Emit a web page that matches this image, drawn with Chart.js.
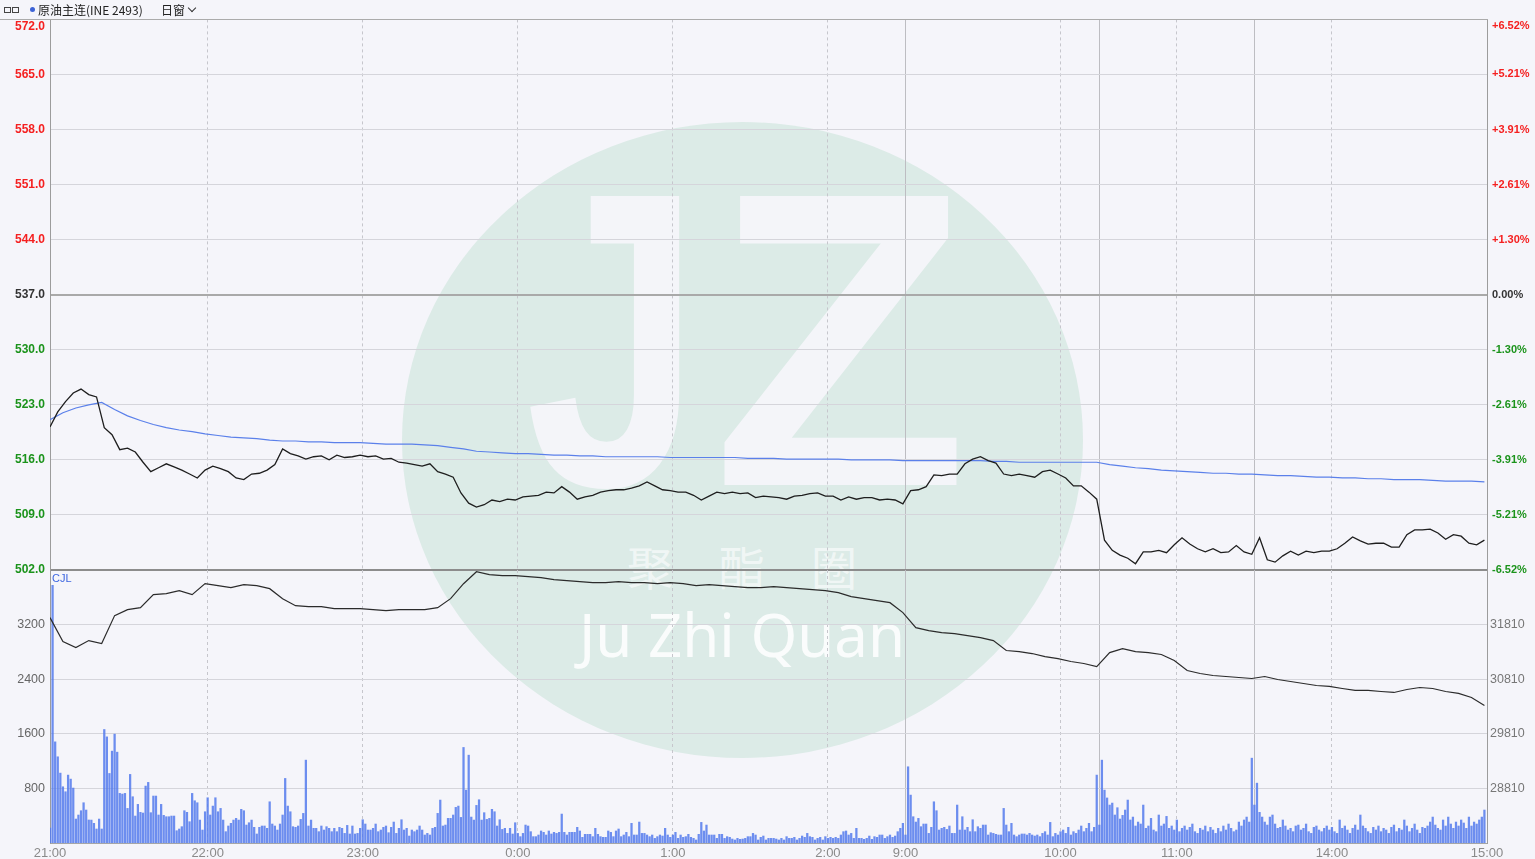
<!DOCTYPE html>
<html lang="zh">
<head>
<meta charset="utf-8">
<title>原油主连 分时</title>
<script src="https://cdn.jsdelivr.net/npm/chart.js@4.4.1/dist/chart.umd.min.js"></script>
<style>
  html, body { margin: 0; padding: 0; }
  body { width: 1535px; height: 859px; background: #f5f5fa; position: relative; overflow: hidden;
         font-family: "Noto Sans CJK SC", "Liberation Sans", sans-serif; }
  canvas { position: absolute; left: 0; top: 0; }
  #priceChart { z-index: 2; }
  #volChart { z-index: 3; }
  #hdr { position: absolute; left: 0; top: 0; width: 1488px; height: 19px; border-bottom: 1px solid #ababab;
         font-size: 12px; line-height: 19px; color: #222; z-index: 4; }
  #hdr .ico { position: absolute; top: 7px; width: 5px; height: 4px; border: 1px solid #444; }
  #hdr .dot { position: absolute; left: 30px; top: 7px; width: 5px; height: 5px; border-radius: 50%; background: #3d63d6; }
  #hdr .name { position: absolute; left: 38px; top: 0; }
  #hdr .win { position: absolute; left: 161px; top: 0; }
  #hdr .chev { position: absolute; left: 189px; top: 5px; width: 5px; height: 5px; border-right: 1.5px solid #333; border-bottom: 1.5px solid #333; transform: rotate(45deg); }
  #cjl { position: absolute; left: 52px; top: 572px; font: 11px "Liberation Sans", sans-serif; color: #3d66e0; z-index: 4; }
  #wm { position: absolute; left: 0; top: 0; width: 1535px; height: 859px; z-index: 1; overflow: hidden; }
  #wm .disc { position: absolute; left: 402px; top: 122px; width: 681px; height: 636px; border-radius: 50%; background: #dcebe7; }
  #wm .lt { position: absolute; top: 130px; font-family: "Liberation Sans", sans-serif; font-weight: bold;
            font-size: 420px; line-height: 420px; color: #f4f5f9; }
  #wm .j { left: 474px; transform-origin: 206px 0; transform: scaleX(0.75); }
  #wm .z { left: 712px; }
  #wm .cn { position: absolute; left: 0; width: 1484px; text-align: center; top: 538px; font-size: 46px; line-height: 54px;
            color: rgba(255,255,255,0.6); }
  #wm .en { position: absolute; left: 0; width: 1484px; text-align: center; top: 598px; font-size: 60px; line-height: 72px;
            font-family: "Noto Sans", sans-serif; color: rgba(255,255,255,0.85); }
</style>
</head>
<body>
<div id="wm">
  <div class="disc"></div>
  <div class="lt j">J</div>
  <div class="lt z">Z</div>
  <div class="cn">聚&emsp;酯&emsp;圈</div>
  <div class="en">Ju Zhi Quan</div>
</div>
<div id="hdr">
  <span class="ico" style="left:4px"></span><span class="ico" style="left:12px"></span>
  <span class="dot"></span>
  <span class="name">原油主连(INE 2493)</span>
  <span class="win">日窗</span><span class="chev"></span>
</div>
<div id="cjl">CJL</div>
<canvas id="priceChart" width="1535" height="859"></canvas>
<canvas id="volChart" width="1535" height="859"></canvas>
<script>
// time axis: minutes since 21:00 on the trading timeline (night 21:00-2:30, day 9:00-15:00)
// minute -1 is the 20:59 opening auction, the session label sits on it
const tickMinutes = [-1, 60, 120, 180, 240, 300, 330, 390, 435, 495, 555];
const tickLabels = ['21:00', '22:00', '23:00', '0:00', '1:00', '2:00', '9:00', '10:00', '11:00', '14:00', '15:00'];
const sessionBreaks = [330, 405, 465];
const firstMinute = -1;
const lastMinute = 555;

const prevClose = 537;

// last price, one value every 3 minutes
const priceStep = 3;
const price = [
  520.2, 522.1, 523.4, 524.5, 525.0, 524.3, 524.0, 520.1, 519.2, 517.3,
  517.5, 517.0, 515.7, 514.5, 515.0, 515.5, 515.1, 514.7, 514.2, 513.7,
  514.7, 515.2, 514.9, 514.5, 513.7, 513.5, 514.2, 514.3, 514.7, 515.4,
  517.4, 516.8, 516.5, 516.1, 516.4, 516.5, 516.0, 516.6, 516.3, 516.4,
  516.6, 516.4, 516.5, 516.1, 516.2, 515.7, 515.6, 515.4, 515.2, 515.5,
  514.5, 514.2, 513.8, 511.8, 510.5, 510.0, 510.3, 510.9, 510.7, 511.0,
  510.9, 511.3, 511.4, 511.5, 511.9, 511.8, 512.6, 511.9, 511.0, 511.3,
  511.5, 511.9, 512.1, 512.2, 512.2, 512.4, 512.7, 513.2, 512.7, 512.2,
  512.1, 511.9, 511.9, 511.5, 510.9, 511.4, 511.9, 511.7, 511.9, 511.7,
  511.8, 511.2, 511.4, 511.3, 511.2, 511.0, 511.4, 511.5, 511.7, 511.8,
  511.4, 511.4, 510.9, 511.3, 511.0, 511.2, 511.2, 510.9, 511.0, 510.9,
  510.4, 512.1, 512.2, 512.6, 514.1, 514.0, 514.2, 514.2, 515.5, 516.1,
  516.4, 515.9, 515.6, 514.2, 514.0, 514.2, 514.0, 513.8, 514.5, 514.7,
  514.2, 513.7, 512.7, 512.7, 511.9, 511.0, 505.8, 504.5, 503.9, 503.5,
  502.8, 504.3, 504.3, 504.5, 504.2, 505.2, 506.1, 505.3, 504.7, 504.3,
  504.7, 504.2, 504.3, 505.1, 504.3, 504.0, 506.1, 503.3, 503.0, 503.8,
  504.4, 503.9, 504.4, 504.2, 504.4, 504.4, 504.7, 505.4, 506.2, 505.7,
  505.3, 505.4, 505.4, 504.9, 504.9, 506.5, 507.1, 507.1, 507.2, 506.7,
  505.9, 506.5, 506.3, 505.4, 505.2, 505.8
];

// average price, every 5 minutes
const avgStep = 5;
const avgPrice = [
  521.1, 522.0, 522.6, 523.0, 523.3, 522.4, 521.6, 521.0, 520.5, 520.1,
  519.8, 519.6, 519.3, 519.1, 518.9, 518.8, 518.7, 518.5, 518.4, 518.4,
  518.3, 518.3, 518.2, 518.2, 518.2, 518.1, 518.0, 518.0, 518.0, 517.9,
  517.8, 517.6, 517.4, 517.1, 517.0, 516.9, 516.8, 516.8, 516.7, 516.6,
  516.6, 516.5, 516.5, 516.4, 516.4, 516.4, 516.4, 516.4, 516.3, 516.3,
  516.3, 516.3, 516.3, 516.3, 516.2, 516.2, 516.2, 516.1, 516.1, 516.1,
  516.1, 516.1, 516.0, 516.0, 516.0, 516.0, 515.9, 515.9, 515.9, 515.9,
  515.9, 515.9, 515.9, 515.8, 515.8, 515.7, 515.7, 515.7, 515.7, 515.7,
  515.7, 515.7, 515.4, 515.2, 515.0, 514.9, 514.7, 514.6, 514.5, 514.4,
  514.3, 514.3, 514.2, 514.2, 514.1, 514.0, 514.0, 513.9, 513.8, 513.8,
  513.7, 513.7, 513.6, 513.6, 513.5, 513.5, 513.5, 513.4, 513.3, 513.3,
  513.3, 513.2
];

// open interest, every 5 minutes
const oiStep = 5;
const openInterest = [
  31938, 31499, 31390, 31518, 31463, 31975, 32084, 32121, 32358, 32377,
  32432, 32358, 32560, 32523, 32486, 32541, 32523, 32468, 32285, 32157,
  32139, 32139, 32102, 32102, 32102, 32084, 32066, 32084, 32084, 32084,
  32121, 32285, 32559, 32779, 32724, 32706, 32706, 32687, 32669, 32633,
  32614, 32596, 32578, 32578, 32596, 32578, 32578, 32560, 32578, 32560,
  32523, 32541, 32523, 32505, 32486, 32486, 32505, 32486, 32468, 32450,
  32432, 32395, 32322, 32285, 32249, 32212, 32029, 31755, 31700, 31664,
  31645, 31609, 31572, 31518, 31335, 31316, 31280, 31225, 31188, 31134,
  31097, 31042, 31298, 31371, 31316, 31298, 31262, 31152, 30969, 30914,
  30878, 30859, 30841, 30823, 30859, 30805, 30768, 30731, 30695, 30677,
  30640, 30604, 30604, 30585, 30567, 30622, 30658, 30640, 30585, 30549,
  30476, 30329
];

// volume (CJL), one bar per minute
const volume = [
  220, 3775, 1482, 1263, 1024, 824, 751, 995, 936, 805, 351, 410, 473, 590, 483, 337, 336, 288, 205, 351,
  205, 1663, 1555, 1019, 1346, 1595, 1331, 727, 717, 727, 507, 1005, 678, 395, 566, 449, 439, 834, 888, 444,
  688, 688, 410, 566, 405, 385, 385, 395, 395, 180, 205, 239, 473, 449, 312, 727, 619, 590,
  336, 190, 458, 663, 410, 541, 663, 458, 507, 336, 166, 249, 288, 336, 361, 336, 493, 473, 263, 297,
  336, 230, 132, 230, 249, 249, 215, 604, 278, 249, 190, 278, 410, 946, 541, 458, 239, 230, 249, 346,
  434, 1214, 249, 336, 215, 215, 166, 249, 190, 239, 215, 166, 215, 166, 230, 215, 141, 258, 132, 249,
  132, 141, 215, 341, 278, 190, 190, 215, 278, 166, 190, 230, 249, 151, 230, 307, 141, 215, 341, 190,
  215, 102, 190, 166, 190, 249, 190, 117, 141, 117, 215, 230, 434, 629, 249, 263, 361, 361, 410, 522,
  541, 375, 1400, 775, 1287, 380, 336, 551, 634, 336, 444, 346, 361, 493, 458, 249, 341, 199, 215, 141,
  215, 132, 297, 141, 93, 141, 263, 249, 166, 93, 93,
  117,
  176, 156, 117, 176, 132, 156, 141, 156, 424, 156, 117, 156, 156, 156, 230, 176, 83, 127, 127, 127,
  93, 215, 127, 93, 83, 83, 176, 156, 93, 176, 205, 93, 117, 156, 93, 288, 117, 117, 307, 141,
  141, 117, 93, 117, 68, 93, 117, 102, 215, 117, 83, 117, 156, 68, 117, 83, 93, 127, 83, 68,
  44, 127, 302, 176, 263, 117, 117, 117, 68, 127, 127, 68, 93, 83, 58, 44, 68, 54, 58, 68,
  93, 93, 141, 117, 44, 83, 102, 44, 68, 68, 68, 58, 44, 68, 44, 93, 68, 68, 83, 44,
  68, 102, 83, 141, 93, 83, 44, 68, 83, 44, 93, 68, 83, 68, 83, 68, 117, 166, 176, 117,
  141, 68, 215, 68, 68, 54, 68, 102, 54, 93, 83, 117, 117, 68, 93, 117, 83, 102, 166, 215,
  288, 117, 1117, 702, 385, 307, 361, 239, 278, 278, 141, 230, 604, 473, 190, 215, 230, 199, 249, 141,
  141, 556, 190, 385, 190, 230, 166, 341, 166, 239, 215, 263, 263, 117, 151, 141, 127, 117, 117, 507,
  263, 166, 288, 117, 93, 117, 132, 132, 117, 141, 117, 102,
  117, 93, 141, 166, 117, 302, 93, 141, 117, 166, 190, 141, 230, 117, 166, 141, 190, 249, 166, 215,
  288, 166, 230,
  995, 263, 1214, 775, 660, 556, 585, 410, 517, 351, 405, 483, 629, 337, 380, 249, 307, 278, 556, 215,
  249, 361, 190, 166, 410, 249, 278, 390, 215, 249, 190, 336, 166, 215, 249, 190, 230, 278, 166, 141,
  215, 190, 249, 166, 230, 190, 141, 215, 166, 249, 190, 278, 215, 166, 190, 307, 249, 337, 380, 307,
  1243, 556, 877, 449, 380, 307, 263, 380, 410, 278, 215, 230, 337, 249, 190, 215, 166, 249, 263, 190,
  215, 278, 166, 141, 230, 249, 190, 166, 215, 249, 190, 230, 166, 141, 337, 215, 249, 190, 141, 215,
  263, 190, 410, 249, 215, 166, 141, 230, 190, 249, 166, 215, 190, 141, 230, 263, 166, 215, 190, 337,
  249, 166, 215, 278, 190, 141, 230, 215, 249, 307, 380, 263, 215, 190, 337, 249, 380, 278, 215, 307,
  249, 337, 293, 215, 380, 249, 307, 278, 337, 380, 483
];

const volTicks = [800, 1600, 2400, 3200];
const oiTicks = [28810, 29810, 30810, 31810];

const numFont = 'Liberation Sans';
const pts = (arr, step) => arr.map((v, i) => ({ x: firstMinute + i * step, y: v }));

function upDownColor(v) {
  if (v > prevClose) return '#f52020';
  if (v < prevClose) return '#1b931b';
  return '#333';
}

function pctLabel(v) {
  const p = (v - prevClose) / prevClose * 100;
  return (p > 0 ? '+' : '') + p.toFixed(2) + '%';
}

// top-edge label sits just under the frame line, like the original
function pushDown(text, v, max) {
  return v === max ? ['', text] : text;
}

function timeAxes(showLabels) {
  return {
    x: {
      type: 'linear', axis: 'x', position: 'bottom', min: firstMinute, max: lastMinute, offset: false,
      afterBuildTicks: s => { s.ticks = tickMinutes.map(v => ({ value: v })); },
      grid: { color: '#c6c6cc', drawTicks: false, offset: false },
      border: { display: showLabels, color: '#a6a6a6', dash: [3, 3] },
      ticks: {
        display: showLabels, autoSkip: false, maxRotation: 0, padding: 3, color: '#8a8a8a',
        font: { family: numFont, size: 13 },
        callback: v => tickLabels[tickMinutes.indexOf(v)]
      },
      afterFit: s => { s.height = showLabels ? 16 : 0; }
    },
    xb: {
      type: 'linear', axis: 'x', position: 'bottom', min: firstMinute, max: lastMinute, offset: false,
      afterBuildTicks: s => { s.ticks = sessionBreaks.map(v => ({ value: v })); },
      grid: { color: '#bdbdc2', drawTicks: false, offset: false },
      border: { display: false },
      ticks: { display: false },
      afterFit: s => { s.height = 0; }
    }
  };
}

// price panel
new Chart(document.getElementById('priceChart'), {
  type: 'line',
  data: {
    datasets: [
      { label: '价格', data: pts(price, priceStep), xAxisID: 'x', yAxisID: 'y',
        borderColor: '#1e1e1e', borderWidth: 1.3, pointRadius: 0, order: 0 },
      { label: '均价', data: pts(avgPrice, avgStep), xAxisID: 'x', yAxisID: 'y',
        borderColor: '#5b80ea', borderWidth: 1.2, pointRadius: 0, order: 1 }
    ]
  },
  options: {
    responsive: false, animation: false, devicePixelRatio: 1,
    layout: { padding: { top: 19, bottom: 289, left: 0, right: 0 } },
    plugins: { legend: { display: false }, tooltip: { enabled: false } },
    scales: Object.assign(timeAxes(false), {
      y: {
        position: 'left', min: 502, max: 572,
        grid: {
          drawTicks: false,
          color: c => c.tick.value === prevClose ? '#a9a9a9' : c.tick.value === 502 ? '#8c8c8c' : c.tick.value === 572 ? '#ababab' : '#d5d5db',
          lineWidth: c => (c.tick.value === prevClose || c.tick.value === 502) ? 2 : 1
        },
        border: { color: '#9c9c9c' },
        ticks: {
          stepSize: 7, padding: 5,
          color: c => upDownColor(c.tick.value),
          font: { family: numFont, size: 12, weight: 'bold' },
          callback: v => pushDown(v.toFixed(1), v, 572)
        },
        afterFit: s => { s.width = 50; }
      },
      yPct: {
        position: 'right', min: 502, max: 572,
        grid: { display: false, drawTicks: false },
        border: { color: '#9c9c9c' },
        ticks: {
          stepSize: 7, padding: 5,
          color: c => upDownColor(c.tick.value),
          font: { family: numFont, size: 11, weight: 'bold' },
          callback: v => pushDown(pctLabel(v), v, 572)
        },
        afterFit: s => { s.width = 48; }
      }
    })
  }
});

// volume / open interest panel
new Chart(document.getElementById('volChart'), {
  data: {
    datasets: [
      { type: 'line', label: '持仓', data: pts(openInterest, oiStep), xAxisID: 'x', yAxisID: 'yOI',
        borderColor: '#2b2b2b', borderWidth: 1.2, pointRadius: 0, order: 0 },
      { type: 'bar', label: 'CJL', data: pts(volume, 1), xAxisID: 'x', yAxisID: 'yVol',
        backgroundColor: 'rgba(84,122,236,0.85)', barThickness: 1.6, order: 1 }
    ]
  },
  options: {
    responsive: false, animation: false, devicePixelRatio: 1,
    layout: { padding: { top: 570, bottom: 0, left: 0, right: 0 } },
    plugins: { legend: { display: false }, tooltip: { enabled: false } },
    scales: Object.assign(timeAxes(true), {
      yVol: {
        type: 'linear', axis: 'y', position: 'left', min: 0, max: 4000,
        afterBuildTicks: s => { s.ticks = volTicks.map(v => ({ value: v })); },
        grid: { color: '#d5d5db', drawTicks: false },
        border: { color: '#9c9c9c' },
        ticks: { padding: 5, color: '#666', font: { family: numFont, size: 12.5 }, callback: v => String(v) },
        afterFit: s => { s.width = 50; }
      },
      yOI: {
        type: 'linear', axis: 'y', position: 'right', min: 27810, max: 32810,
        afterBuildTicks: s => { s.ticks = oiTicks.map(v => ({ value: v })); },
        grid: { display: false, drawTicks: false },
        border: { color: '#9c9c9c' },
        ticks: { padding: 3, color: '#777', font: { family: numFont, size: 12.5 }, callback: v => String(v) },
        afterFit: s => { s.width = 48; }
      }
    })
  }
});
</script>
</body>
</html>
